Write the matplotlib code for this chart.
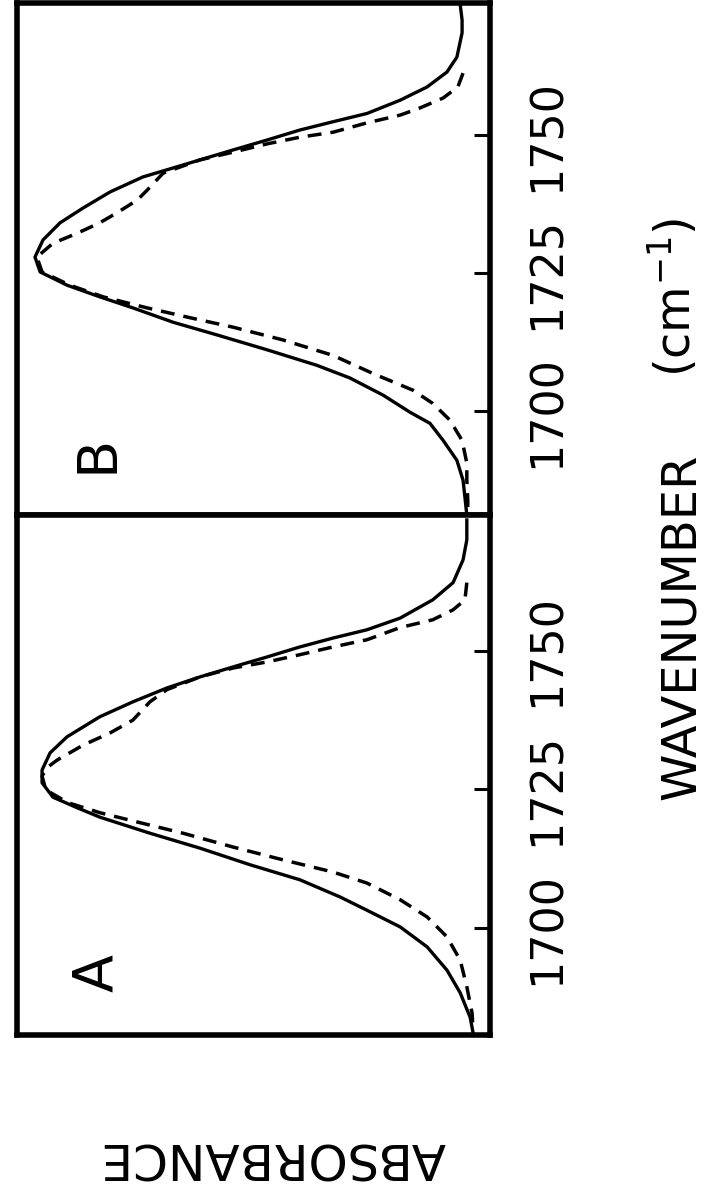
import matplotlib.pyplot as plt

# Panel B, solid trace (wavenumber in cm-1, absorbance normalised)
wn_b_solid = [1773.6, 1770.8, 1768.5, 1764.1, 1761.4, 1758.7, 1756.3, 1753.9, 1752.4, 1750.9,
              1749.1, 1747.3, 1745.5, 1743.7, 1742.4, 1739.7, 1736.8, 1734.1, 1731.0, 1727.9,
              1725.2, 1722.8, 1720.7, 1718.7, 1716.1, 1713.8, 1711.1, 1708.3, 1706.0, 1702.9,
              1699.8, 1697.8, 1694.7, 1691.1, 1687.5, 1684.4, 1681.2]
abs_b_solid = [0.063, 0.059, 0.059, 0.070, 0.091, 0.133, 0.190, 0.260, 0.332, 0.402,
               0.471, 0.543, 0.613, 0.683, 0.734, 0.803, 0.860, 0.909, 0.945, 0.962,
               0.951, 0.894, 0.825, 0.755, 0.670, 0.577, 0.471, 0.366, 0.296, 0.226,
               0.169, 0.127, 0.099, 0.070, 0.057, 0.053, 0.049]

# Panel B, dashed trace
wn_b_dash = [1761.2, 1758.7, 1756.7, 1754.9, 1753.6, 1752.2, 1750.5, 1749.6, 1748.4, 1746.9,
             1745.5, 1743.1, 1740.0, 1738.2, 1735.9, 1734.1, 1732.2, 1730.4, 1727.9, 1725.2,
             1722.8, 1720.7, 1718.7, 1716.8, 1715.2, 1712.9, 1710.1, 1706.8, 1703.8, 1701.4,
             1698.4, 1694.7, 1690.6, 1687.5, 1683.9, 1681.2]
abs_b_dash = [0.057, 0.068, 0.099, 0.148, 0.190, 0.260, 0.332, 0.402, 0.471, 0.543,
              0.613, 0.691, 0.725, 0.746, 0.789, 0.825, 0.873, 0.924, 0.958, 0.947,
              0.888, 0.818, 0.725, 0.628, 0.543, 0.438, 0.332, 0.247, 0.163, 0.121,
              0.085, 0.059, 0.049, 0.049, 0.047, 0.047]

# Panel A, solid trace
wn_a_solid = [1773.6, 1770.0, 1766.4, 1762.3, 1759.2, 1755.9, 1753.8, 1752.3, 1750.7, 1748.9,
              1747.1, 1745.3, 1743.3, 1740.8, 1738.1, 1734.5, 1731.6, 1728.5, 1726.2, 1723.6,
              1721.7, 1720.0, 1717.1, 1714.4, 1711.4, 1708.7, 1705.6, 1703.2, 1700.2, 1696.6,
              1692.4, 1688.3, 1683.9, 1681.2]
abs_a_solid = [0.049, 0.049, 0.057, 0.078, 0.121, 0.190, 0.260, 0.332, 0.402, 0.471,
               0.543, 0.613, 0.683, 0.755, 0.825, 0.894, 0.930, 0.947, 0.947, 0.924,
               0.873, 0.825, 0.719, 0.613, 0.507, 0.402, 0.317, 0.260, 0.190, 0.133,
               0.091, 0.063, 0.042, 0.036]

# Panel A, dashed trace
wn_a_dash = [1762.3, 1759.2, 1757.4, 1755.6, 1754.2, 1752.0, 1750.7, 1749.3, 1748.0, 1746.9,
             1745.3, 1743.0, 1740.8, 1737.5, 1735.2, 1733.0, 1730.3, 1728.9, 1727.4, 1724.9,
             1722.6, 1720.8, 1719.0, 1717.1, 1714.6, 1712.3, 1710.1, 1708.1, 1705.1, 1702.0,
             1698.4, 1694.2, 1689.4, 1684.7, 1682.1]
abs_a_dash = [0.049, 0.053, 0.078, 0.121, 0.190, 0.260, 0.332, 0.402, 0.471, 0.543,
              0.613, 0.683, 0.719, 0.755, 0.803, 0.860, 0.915, 0.937, 0.947, 0.939,
              0.892, 0.825, 0.740, 0.649, 0.543, 0.438, 0.332, 0.260, 0.190, 0.133,
              0.091, 0.063, 0.049, 0.038, 0.036]

ticks = [1700, 1725, 1750]
tick_labels = ['1700', '1725', '1750']

W, H = 711, 1184
fig = plt.figure(figsize=(W / 100, H / 100), dpi=100)

# two stacked panels, the spectrum is drawn sideways (wavenumber runs up the page)
ax_b = fig.add_axes([17 / W, 1 - 515 / H, 473 / W, 512 / H])
ax_a = fig.add_axes([17 / W, 1 - 1035 / H, 473 / W, 520 / H])

panels = [
    (ax_b, wn_b_solid, abs_b_solid, wn_b_dash, abs_b_dash, (1681.2, 1773.9), 'B'),
    (ax_a, wn_a_solid, abs_a_solid, wn_a_dash, abs_a_dash, (1680.7, 1774.5), 'A'),
]

for ax, ws, a_s, wd, a_d, ylim, name in panels:
    ax.plot(a_s, ws, color='black', lw=2.4, solid_joinstyle='round')
    ax.plot(a_d, wd, color='black', lw=2.5, linestyle=(0, (4, 2.6)))
    ax.set_xlim(1.0, 0.0)
    ax.set_ylim(*ylim)
    ax.set_xticks([])
    ax.set_yticks(ticks)
    ax.set_yticklabels(tick_labels)
    ax.yaxis.tick_right()
    ax.tick_params(axis='y', direction='in', length=11.5, width=2.2,
                   labelsize=32, labelrotation=90, pad=26)
    for lab in ax.get_yticklabels():
        lab.set_va('center')
    for s in ax.spines.values():
        s.set_linewidth(4)
    ax.text(0.17, 0.12, name, transform=ax.transAxes, rotation=90,
            fontsize=40, ha='center', va='center')

fig.text(681 / W, 1 - 627 / H, 'WAVENUMBER', rotation=90, fontsize=34.5,
         ha='center', va='center')
fig.text(674 / W, 1 - 297 / H, '(cm$^{-1}$)', rotation=90, fontsize=34.5,
         ha='center', va='center')
fig.text(273 / W, 1 - 1157 / H, 'ABSORBANCE', rotation=180, fontsize=36,
         ha='center', va='center')

fig.savefig('out.png', dpi=100)
